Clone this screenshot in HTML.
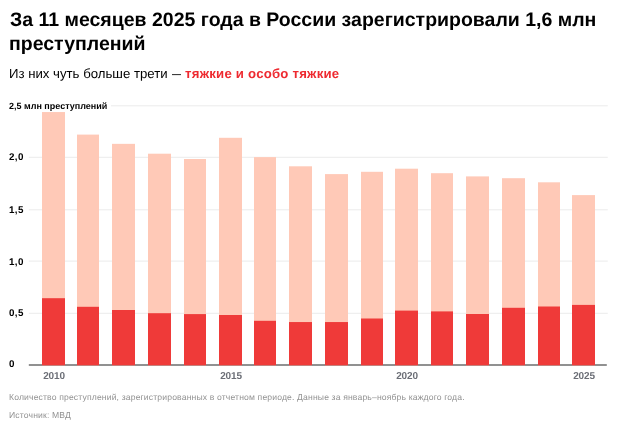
<!DOCTYPE html>
<html lang="ru"><head><meta charset="utf-8">
<style>
html,body{margin:0;padding:0;background:#fff;}
body{width:624px;height:431px;position:relative;overflow:hidden;font-family:"Liberation Sans",Arial,sans-serif;text-rendering:geometricPrecision;}
.t{will-change:transform;position:absolute;left:9.6px;font-size:19.5px;font-weight:bold;line-height:24px;color:#000;white-space:nowrap;}
.s{will-change:transform;position:absolute;left:9.3px;top:66px;font-size:13.2px;line-height:16px;color:#000;white-space:nowrap;letter-spacing:0px}
.s b{color:#ee2a30;letter-spacing:0.22px;margin-left:0px}
.s i{font-style:normal;display:inline-block;transform:scaleX(0.68);margin:0 -2px 0 -1px}
.ch{position:absolute;left:0;top:0;}
.yl{will-change:transform;position:absolute;left:8.9px;font-size:9.8px;line-height:14px;font-weight:bold;color:#000;letter-spacing:0.4px}
.u{will-change:transform;position:absolute;left:8.85px;top:99px;font-size:9px;line-height:14px;font-weight:bold;color:#000;}
.yr{will-change:transform;position:absolute;width:40px;text-align:center;font-size:10px;line-height:14px;color:#6b6e76;font-weight:bold;letter-spacing:-0.15px}
.n{will-change:transform;position:absolute;left:8.8px;font-size:8.6px;line-height:12px;color:#929292;white-space:nowrap;letter-spacing:0.15px}
</style></head><body>
<div class="t" style="top:8px">За 11 месяцев 2025 года в России зарегистрировали 1,6 млн</div>
<div class="t" style="left:8.6px;top:32px">преступлений</div>
<div class="s">Из них чуть больше трети <i>—</i> <b>тяжкие и особо тяжкие</b></div>
<svg class="ch" width="624" height="431" viewBox="0 0 624 431"><rect x="28.8" y="312.80" width="579" height="1" fill="#ececec"/><rect x="28.8" y="260.60" width="579" height="1" fill="#ececec"/><rect x="28.8" y="209.30" width="579" height="1" fill="#ececec"/><rect x="28.8" y="156.80" width="579" height="1" fill="#ececec"/><rect x="111" y="105.3" width="496.8" height="1" fill="#ececec"/><rect x="28.8" y="364.2" width="578" height="1.6" fill="#777777"/><rect x="42" y="112.05" width="23" height="253.25" fill="#ffc9b7"/><rect x="42" y="298.20" width="23" height="67.10" fill="#ef3a39"/><rect x="77" y="134.60" width="22" height="230.70" fill="#ffc9b7"/><rect x="77" y="306.80" width="22" height="58.50" fill="#ef3a39"/><rect x="112" y="143.85" width="23" height="221.45" fill="#ffc9b7"/><rect x="112" y="310.00" width="23" height="55.30" fill="#ef3a39"/><rect x="148" y="153.70" width="23" height="211.60" fill="#ffc9b7"/><rect x="148" y="313.20" width="23" height="52.10" fill="#ef3a39"/><rect x="184" y="159.00" width="22" height="206.30" fill="#ffc9b7"/><rect x="184" y="314.10" width="22" height="51.20" fill="#ef3a39"/><rect x="219" y="137.80" width="23" height="227.50" fill="#ffc9b7"/><rect x="219" y="315.00" width="23" height="50.30" fill="#ef3a39"/><rect x="254" y="157.10" width="22" height="208.20" fill="#ffc9b7"/><rect x="254" y="320.80" width="22" height="44.50" fill="#ef3a39"/><rect x="289" y="166.30" width="23" height="199.00" fill="#ffc9b7"/><rect x="289" y="322.05" width="23" height="43.25" fill="#ef3a39"/><rect x="325" y="174.10" width="23" height="191.20" fill="#ffc9b7"/><rect x="325" y="322.05" width="23" height="43.25" fill="#ef3a39"/><rect x="361" y="171.80" width="22" height="193.50" fill="#ffc9b7"/><rect x="361" y="318.50" width="22" height="46.80" fill="#ef3a39"/><rect x="395" y="168.70" width="23" height="196.60" fill="#ffc9b7"/><rect x="395" y="310.60" width="23" height="54.70" fill="#ef3a39"/><rect x="431" y="173.20" width="22" height="192.10" fill="#ffc9b7"/><rect x="431" y="311.40" width="22" height="53.90" fill="#ef3a39"/><rect x="466" y="176.40" width="23" height="188.90" fill="#ffc9b7"/><rect x="466" y="314.00" width="23" height="51.30" fill="#ef3a39"/><rect x="502" y="178.20" width="23" height="187.10" fill="#ffc9b7"/><rect x="502" y="307.80" width="23" height="57.50" fill="#ef3a39"/><rect x="538" y="182.30" width="22" height="183.00" fill="#ffc9b7"/><rect x="538" y="306.50" width="22" height="58.80" fill="#ef3a39"/><rect x="572" y="195.10" width="23" height="170.20" fill="#ffc9b7"/><rect x="572" y="304.90" width="23" height="60.40" fill="#ef3a39"/></svg>
<div class="u">2,5 млн преступлений</div>
<div class="yl" style="top:151px">2,0</div><div class="yl" style="top:204px">1,5</div><div class="yl" style="top:256px">1,0</div><div class="yl" style="top:307px">0,5</div><div class="yl" style="top:358px">0</div>
<div class="yr" style="left:34.00px;top:370px">2010</div><div class="yr" style="left:210.67px;top:370px">2015</div><div class="yr" style="left:387.33px;top:370px">2020</div><div class="yr" style="left:564.00px;top:370px">2025</div>
<div class="n" style="top:391px">Количество преступлений, зарегистрированных в отчетном периоде. Данные за январь–ноябрь каждого года.</div>
<div class="n" style="top:409px">Источник: МВД</div>
</body></html>
